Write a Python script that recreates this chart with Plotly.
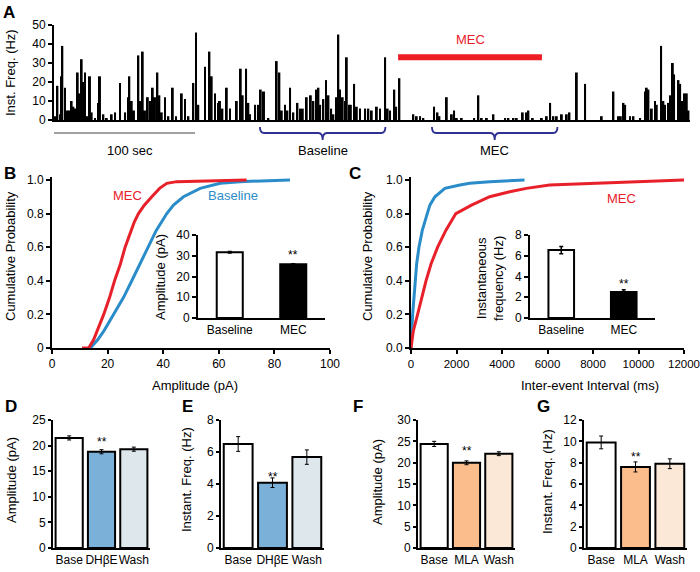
import plotly.graph_objects as go

W, H = 700, 572
FONT = "Liberation Sans, Arial, sans-serif"

# ---------------- Panel A: instantaneous frequency trace ----------------
spike_t = [0.7, 2.4, 4.3, 5.0, 5.9, 7.8, 9.7, 11.3, 12.5, 13.7, 14.9, 16.8, 18.0, 19.6, 20.8, 22.0, 23.6, 25.5,
           26.7, 29.1, 31.4, 32.6, 35.0, 37.4, 40.9, 43.3, 46.8, 50.4, 52.7, 53.4, 55.1, 56.7, 59.8, 61.5, 62.9,
           64.5, 66.5, 68.1, 70.0, 71.6, 73.3, 74.7, 76.4, 78.7, 81.1, 84.2, 86.5, 90.6, 92.9, 95.3, 98.8, 100.7,
           102.3, 107.1, 110.2, 111.8, 114.2, 116.5, 117.7, 119.4, 122.5, 124.8, 129.6, 132.4, 133.8, 136.2,
           137.8, 139.0, 142.6, 144.9, 146.6, 148.9, 152.0, 157.9, 159.8, 161.5, 163.8, 165.5, 167.4, 169.7,
           172.6, 174.5, 176.4, 179.2, 182.1, 183.9, 186.3, 187.5, 188.7, 191.0, 192.9, 194.6, 196.5, 198.1,
           200.0, 201.6, 202.8, 204.7, 206.4, 207.6, 209.4, 210.5, 212.8, 214.7, 217.0, 220.6, 222.9, 225.3,
           228.9, 231.2, 234.8, 236.6, 238.3, 241.3, 242.6, 244.9, 254.8, 257.2, 259.6, 261.9, 269.5, 271.9,
           273.3, 278.5, 282.1, 283.7, 285.6, 289.1, 297.9, 300.9, 303.3, 306.9, 311.6, 319.9, 322.2, 325.8,
           328.1, 332.4, 334.8, 336.4, 339.5, 345.9, 349.4, 351.8, 354.1, 356.5, 360.1, 363.6, 365.5, 370.7,
           376.6, 388.4, 396.7, 400.2, 401.9, 403.8, 405.0, 408.5, 410.9, 415.6, 419.1, 420.3, 421.5, 423.9,
           426.2, 427.4, 430.5, 432.1, 433.3, 435.7, 437.4, 438.8, 439.7, 442.8, 444.0, 445.6, 447.0, 448.7, 449.9]
spike_hz = [2, 18, 3, 23, 39, 17, 5, 5, 10, 7, 6, 25, 14, 32, 20, 25, 2, 23,
            4, 1, 9, 23, 3, 1, 3, 4, 19.5, 4, 12, 23, 10, 5, 34, 10, 36,
            5, 12, 10, 17, 12, 25, 13, 4, 12, 2, 17, 2, 14, 11, 2, 19.5, 46,
            8, 28, 36, 23, 14, 9, 10, 6, 17, 6, 10, 27, 13, 27,
            9, 3, 8, 8, 16, 15, 1, 31, 25, 5, 8, 5, 17, 4,
            9, 6, 6, 12, 13, 10, 16, 17, 8, 11, 21, 13, 6, 3,
            12, 45, 16, 12, 10, 33, 8, 8, 19, 7, 6, 6, 6, 5,
            7, 6, 33, 6, 5, 16, 7, 22, 3, 2, 2, 1, 7, 4,
            2, 12, 3, 5, 1, 1, 1, 13, 1, 1, 3, 1, 1, 1,
            1, 4, 4, 5, 1, 1, 2, 9, 2, 2, 3, 3, 4, 25,
            19, 2, 15, 2, 2, 9, 8, 2, 2, 1, 15, 17, 16, 6,
            10, 8, 39, 10, 8, 9, 13, 30, 24, 21, 19, 10, 14, 14, 5]
mec_application = [244, 346]   # s
mec_bar_level = 33             # Hz
baseline_window = [146, 235]   # s
mec_window = [268, 357]        # s
scale_bar = [0, 100]           # s

# ---------------- Panel B: amplitude cumulative ----------------
amp_base_p = [0, 0.02, 0.05, 0.1, 0.2, 0.3, 0.4, 0.5, 0.6, 0.7, 0.8, 0.85, 0.9, 0.95, 0.98, 0.99, 1.0]
amp_base_x = [13.8, 15.0, 16.5, 18.6, 22.2, 25.7, 28.7, 31.7, 34.5, 37.5, 41.3, 43.7, 47.3, 53.3, 60.5, 67.7, 85.6]
amp_mec_p = [0, 0, 0.05, 0.1, 0.2, 0.3, 0.4, 0.5, 0.6, 0.7, 0.75, 0.8, 0.85, 0.9, 0.95, 0.98, 0.99, 1.0]
amp_mec_x = [10.8, 13.2, 15.0, 16.2, 18.6, 20.7, 22.5, 24.6, 26.3, 28.5, 29.6, 31.1, 33.2, 35.9, 38.7, 41.3, 44.9, 70.0]

inset_groups = ["Baseline", "MEC"]
amp_mean = [31.7, 25.9]
amp_sem = [0.4, 0.3]

# ---------------- Panel C: inter-event interval cumulative ----------------
isi_base_p = [0, 0.2, 0.4, 0.5, 0.6, 0.7, 0.8, 0.85, 0.9, 0.95, 0.97, 0.98, 0.99, 1.0]
isi_base_x = [0, 73, 190, 248, 350, 496, 715, 830, 1050, 1490, 2150, 2580, 3460, 4990]
isi_mec_p = [0, 0.1, 0.2, 0.3, 0.4, 0.5, 0.6, 0.7, 0.8, 0.85, 0.9, 0.93, 0.95, 0.97, 0.98, 0.99, 1.0]
isi_mec_x = [0, 100, 290, 470, 660, 880, 1170, 1530, 1970, 2660, 3460, 4340, 5070, 6090, 7840, 9740, 12000]

freq_mean = [6.55, 2.5]
freq_sem = [0.35, 0.22]

# ---------------- Panels D-G ----------------
dhbe_groups = ["Base", "DHβE", "Wash"]
d_amp = [21.5, 18.8, 19.3]
d_amp_sem = [0.4, 0.4, 0.4]
e_freq = [6.5, 4.08, 5.68]
e_freq_sem = [0.46, 0.3, 0.45]
mla_groups = ["Base", "MLA", "Wash"]
f_amp = [24.4, 19.97, 22.1]
f_amp_sem = [0.6, 0.45, 0.45]
g_freq = [9.9, 7.6, 7.9]
g_freq_sem = [0.6, 0.47, 0.46]

RED = "#e8202a"
BLUE = "#2a8cc8"
NAVY = "#2e3192"
DH_COL = ["#ffffff", "#7bb0d8", "#dde7ec"]
MLA_COL = ["#ffffff", "#fbbd8c", "#fbe8d7"]


def xd(a, b):
    return [a / W, b / W]


def yd(top, bottom):
    return [1 - bottom / H, 1 - top / H]


def px(x):
    return x / W


def py(y):
    return 1 - y / H


fig = go.Figure()

# Panel A
fig.add_trace(go.Bar(x=spike_t, y=spike_hz, width=1.4, marker=dict(color="black", line=dict(width=0)),
                     xaxis="x", yaxis="y"))

# Panel B
fig.add_trace(go.Scatter(x=amp_base_x, y=amp_base_p, mode="lines", line=dict(color=BLUE, width=3),
                         xaxis="x2", yaxis="y2"))
fig.add_trace(go.Scatter(x=amp_mec_x, y=amp_mec_p, mode="lines", line=dict(color=RED, width=3),
                         xaxis="x2", yaxis="y2"))
fig.add_trace(go.Bar(x=inset_groups, y=amp_mean, width=0.41,
                     marker=dict(color=["white", "black"], line=dict(color="black", width=2)),
                     error_y=dict(type="data", array=amp_sem, color="black", thickness=1.5, width=2),
                     xaxis="x3", yaxis="y3"))

# Panel C
fig.add_trace(go.Scatter(x=isi_base_x, y=isi_base_p, mode="lines", line=dict(color=BLUE, width=3),
                         xaxis="x4", yaxis="y4"))
fig.add_trace(go.Scatter(x=isi_mec_x, y=isi_mec_p, mode="lines", line=dict(color=RED, width=3),
                         xaxis="x4", yaxis="y4"))
fig.add_trace(go.Bar(x=inset_groups, y=freq_mean, width=0.41,
                     marker=dict(color=["white", "black"], line=dict(color="black", width=2)),
                     error_y=dict(type="data", array=freq_sem, color="black", thickness=1.5, width=2),
                     xaxis="x5", yaxis="y5"))

# Panels D-G
for (groups, vals, errs, cols, ax) in [
    (dhbe_groups, d_amp, d_amp_sem, DH_COL, "6"),
    (dhbe_groups, e_freq, e_freq_sem, DH_COL, "7"),
    (mla_groups, f_amp, f_amp_sem, MLA_COL, "8"),
    (mla_groups, g_freq, g_freq_sem, MLA_COL, "9"),
]:
    fig.add_trace(go.Bar(x=groups, y=vals, width=0.84,
                         marker=dict(color=cols, line=dict(color="black", width=2)),
                         error_y=dict(type="data", array=errs, color="black", thickness=1, width=2),
                         xaxis="x" + ax, yaxis="y" + ax))

tickfont = dict(size=12, color="black", family=FONT)
base_ax = dict(showline=True, linecolor="black", linewidth=2, showgrid=False, zeroline=False,
               tickfont=tickfont, ticks="outside", ticklen=4, tickwidth=1.5, tickcolor="black",
               automargin=False, ticklabeloverflow="allow")


def ax_(dom, anchor, **kw):
    d = dict(base_ax)
    d.update(domain=dom, anchor=anchor)
    d.update(kw)
    return d


def cat_x(dom, anchor):
    return ax_(dom, anchor, ticks="", type="category", tickangle=0)


layout = dict(
    width=W, height=H, margin=dict(l=0, r=0, t=0, b=0, pad=0), autosize=False,
    paper_bgcolor="white", plot_bgcolor="rgba(0,0,0,0)", showlegend=False,
    font=dict(family=FONT, color="black", size=12),
    # A
    xaxis=ax_(xd(54, 690), "y", range=[0, 451], showticklabels=False, ticks=""),
    yaxis=ax_(yd(25, 120), "x", range=[0, 50], tickvals=[0, 10, 20, 30, 40, 50]),
    # B
    xaxis2=ax_(xd(52, 330), "y2", range=[0, 100], tickvals=[0, 20, 40, 60, 80, 100]),
    yaxis2=ax_(yd(176.6, 348), "x2", range=[0, 1.02], tickvals=[0, 0.2, 0.4, 0.6, 0.8, 1.0],
               ticktext=["0", "0.2", "0.4", "0.6", "0.8", "1.0"]),
    xaxis3=cat_x(xd(198, 325), "y3"),
    yaxis3=ax_(yd(235, 318), "x3", range=[0, 40], tickvals=[0, 10, 20, 30, 40]),
    # C
    xaxis4=ax_(xd(411, 684), "y4", range=[0, 12000], tickvals=list(range(0, 12001, 2000)),
               ticktext=[str(v) for v in range(0, 12001, 2000)],
               tickfont=dict(size=11.5, color="black", family=FONT)),
    yaxis4=ax_(yd(176.6, 348), "x4", range=[0, 1.02], tickvals=[0, 0.2, 0.4, 0.6, 0.8, 1.0],
               ticktext=["0.0", "0.2", "0.4", "0.6", "0.8", "1.0"]),
    xaxis5=cat_x(xd(530, 655), "y5"),
    yaxis5=ax_(yd(235, 318), "x5", range=[0, 8], tickvals=[0, 2, 4, 6, 8]),
    # D-G
    xaxis6=cat_x(xd(53, 150), "y6"),
    yaxis6=ax_(yd(420, 548), "x6", range=[0, 25], tickvals=[0, 5, 10, 15, 20, 25], ticklen=3),
    xaxis7=cat_x(xd(221, 324), "y7"),
    yaxis7=ax_(yd(420, 548), "x7", range=[0, 8], tickvals=[0, 2, 4, 6, 8], ticklen=3),
    xaxis8=cat_x(xd(418, 515), "y8"),
    yaxis8=ax_(yd(420, 548), "x8", range=[0, 30], tickvals=[0, 5, 10, 15, 20, 25, 30], ticklen=3),
    xaxis9=cat_x(xd(584, 687), "y9"),
    yaxis9=ax_(yd(420, 548), "x9", range=[0, 12], tickvals=[0, 2, 4, 6, 8, 10, 12], ticklen=3),
)
fig.update_layout(**layout)

ann = []


def text(x, y, s, size=13, color="black", angle=0, bold=False, xanchor="center", xref="paper", yref="paper"):
    if bold:
        s = "<b>" + s + "</b>"
    ann.append(dict(x=x, y=y, xref=xref, yref=yref, text=s, showarrow=False, textangle=angle,
                    font=dict(size=size, color=color, family=FONT), xanchor=xanchor, yanchor="middle"))


# panel letters
for L, x, y in [("A", 9, 13), ("B", 10, 173), ("C", 355, 173), ("D", 11, 406), ("E", 187, 406),
                ("F", 358, 406), ("G", 543, 406)]:
    text(px(x), py(y), L, size=17, bold=True)

# axis titles
text(px(11), py(73), "Inst. Freq. (Hz)", angle=-90)
text(px(11), py(256), "Cumulative Probability", angle=-90)
text(px(368), py(256), "Cumulative Probability", angle=-90)
text(px(195), py(385), "Amplitude (pA)")
text(px(590), py(385), "Inter-event Interval (ms)")
text(px(160), py(277), "Amplitude (pA)", angle=-90)
text(px(490), py(278), "Instantaneous<br>frequency (Hz)", angle=-90)
text(px(11), py(480), "Amplitude (pA)", angle=-90)
text(px(186), py(480), "Instant. Freq. (Hz)", angle=-90)
text(px(377), py(482), "Amplitude (pA)", angle=-90)
text(px(547), py(482), "Instant. Freq. (Hz)", angle=-90)

# panel A annotations
text(sum(mec_application) / 2, py(40), "MEC", color=RED, xref="x")
text(sum(scale_bar) / 2 + 4, py(150), "100 sec", xref="x")
text(sum(baseline_window) / 2, py(150), "Baseline", xref="x")
text(sum(mec_window) / 2, py(150), "MEC", xref="x")

# curve labels
ann.append(dict(x=27, y=0.91, xref="x2", yref="y2", text="MEC", showarrow=False,
                font=dict(size=13, color=RED, family=FONT)))
ann.append(dict(x=65, y=0.91, xref="x2", yref="y2", text="Baseline", showarrow=False,
                font=dict(size=13, color=BLUE, family=FONT)))
ann.append(dict(x=6250, y=1.05, xref="x4", yref="y4", text="Baseline", showarrow=False,
                font=dict(size=13, color=BLUE, family=FONT)))
ann.append(dict(x=9250, y=0.89, xref="x4", yref="y4", text="MEC", showarrow=False,
                font=dict(size=13, color=RED, family=FONT)))

# significance stars
for xr, yr, xv, yv in [("x3", "y3", "MEC", 26.1), ("x5", "y5", "MEC", 2.43), ("x6", "y6", "DHβE", 19.0),
                       ("x7", "y7", "DHβE", 3.86), ("x8", "y8", "MLA", 20.6), ("x9", "y9", "MLA", 7.65)]:
    ann.append(dict(x=xv, y=yv, xref=xr, yref=yr, text="**", showarrow=False, yanchor="bottom",
                    font=dict(size=12, color="black", family=FONT)))

fig.update_layout(annotations=ann)

shapes = []
# MEC application bar
shapes.append(dict(type="line", xref="x", yref="y", x0=mec_application[0], x1=mec_application[1],
                   y0=mec_bar_level, y1=mec_bar_level, line=dict(color="#ee1c24", width=6)))
# scale bar
shapes.append(dict(type="line", xref="x", yref="paper", x0=scale_bar[0], x1=scale_bar[1],
                   y0=py(133), y1=py(133), line=dict(color="#444444", width=1.2)))


def bracket(x0, x1):
    yt, yl, ytip = py(127), py(133), py(140)
    xm = (x0 + x1) / 2
    d = 3
    return (f"M {x0},{yt} Q {x0},{yl} {x0 + d},{yl} L {xm - d},{yl} Q {xm},{yl} {xm},{ytip} "
            f"Q {xm},{yl} {xm + d},{yl} L {x1 - d},{yl} Q {x1},{yl} {x1},{yt}")


for w in (baseline_window, mec_window):
    shapes.append(dict(type="path", xref="x", yref="paper", path=bracket(*w),
                       line=dict(color=NAVY, width=1.8)))
fig.update_layout(shapes=shapes)

fig.write_html("out.html", config={"displayModeBar": False},
               post_script="document.body.style.margin='0';document.body.style.overflow='hidden';")
